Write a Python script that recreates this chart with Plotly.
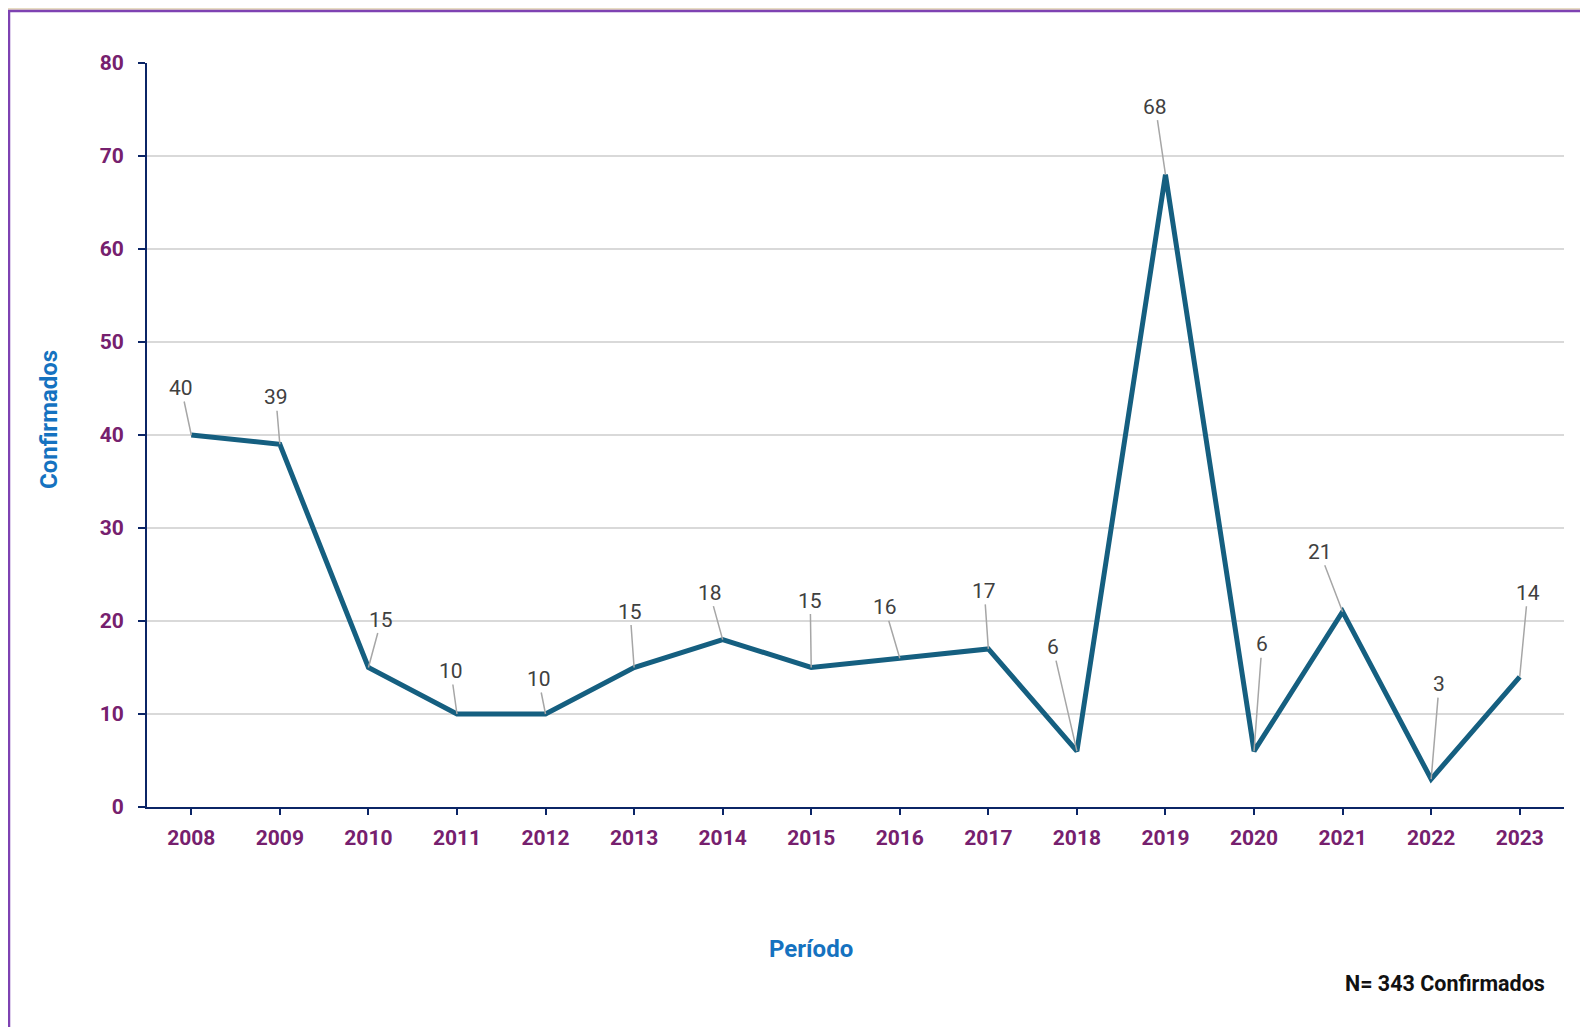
import plotly.graph_objects as go

years = ['2008', '2009', '2010', '2011', '2012', '2013', '2014', '2015',
         '2016', '2017', '2018', '2019', '2020', '2021', '2022', '2023']
confirmados = [40, 39, 15, 10, 10, 15, 18, 15, 16, 17, 6, 68, 6, 21, 3, 14]
y_ticks = [0, 10, 20, 30, 40, 50, 60, 70, 80]

# label offsets (pixels) for the value callouts
label_dx = [-10, -4, 13, -6, -7, -4, -13, -1, -15, -4, -24, -10, 8, -23, 8, 8]
label_dy = [-47, -47, -48, -43, -35, -56, -47, -67, -51, -58, -104, -68, -107, -60, -95, -84]

W, H = 1588, 1027
OFF = 8  # page offset of the figure
L, T = 147 - OFF, 63 - OFF
R = W - (1564 - OFF)
B = H - (807 - OFF)
PW, PH = W - L - R, H - T - B


def px(xp):
    return (xp - OFF - L) / PW


def py(yp):
    return (H - B - (yp - OFF)) / PH


FONT = 'Roboto'
PURPLE = '#76206e'
BLUE = '#1572c0'
NAVY = '#0b2566'

fig = go.Figure()
fig.add_trace(go.Scatter(
    x=years, y=confirmados, mode='lines',
    line=dict(color='#155f80', width=5),
    hoverinfo='x+y', showlegend=False,
))

for i, (y, dx, dy) in enumerate(zip(confirmados, label_dx, label_dy)):
    fig.add_annotation(
        x=i, y=y, xref='x', yref='y', text=str(y), showarrow=True, arrowhead=0,
        arrowcolor='#a6a6a6', arrowwidth=1.5, standoff=0,
        ax=dx, ay=dy, font=dict(family=FONT, size=21, color='#404040'),
    )

# panel background with purple frame
fig.add_shape(type='rect', xref='paper', yref='paper',
              x0=px(9), x1=px(W + 30), y0=py(11), y1=py(H + 30),
              fillcolor='white', line=dict(color='#7e42b2', width=2.5),
              layer='below')

fig.add_annotation(xref='paper', yref='paper', x=px(49), y=py(420),
                   xanchor='center', yanchor='middle',
                   text='<b>Confirmados</b>', textangle=-90, showarrow=False,
                   font=dict(family=FONT, size=24, color=BLUE))
fig.add_annotation(xref='paper', yref='paper', x=px(811), y=py(949),
                   xanchor='center', yanchor='middle',
                   text='<b>Período</b>', showarrow=False,
                   font=dict(family=FONT, size=24, color=BLUE))
fig.add_annotation(xref='paper', yref='paper', x=px(1547), y=py(984),
                   xanchor='right', yanchor='middle',
                   text='<b>N= 343 Confirmados</b>', showarrow=False,
                   font=dict(family=FONT, size=21.5, color='#111111'))

fig.update_layout(
    width=W, height=H,
    margin=dict(l=L, r=R, t=T, b=B),
    paper_bgcolor='#e7dcc2',
    plot_bgcolor='rgba(0,0,0,0)',
    xaxis=dict(type='category', range=[-0.5, 15.5], showgrid=False,
               showline=True, linecolor=NAVY, linewidth=2,
               ticks='outside', ticklen=6, tickwidth=2, tickcolor=NAVY,
               tickfont=dict(family=FONT, size=21, color=PURPLE, weight='bold'),
               ticklabelstandoff=5),
    yaxis=dict(range=[0, 80], tickvals=y_ticks, showgrid=True,
               gridcolor='#d9d9d9', gridwidth=2, zeroline=False,
               showline=True, linecolor=NAVY, linewidth=2,
               ticks='outside', ticklen=7, tickwidth=2, tickcolor=NAVY,
               tickfont=dict(family=FONT, size=21, color=PURPLE, weight='bold'),
               ticklabelstandoff=10),
)

fig.write_html('out.html')
